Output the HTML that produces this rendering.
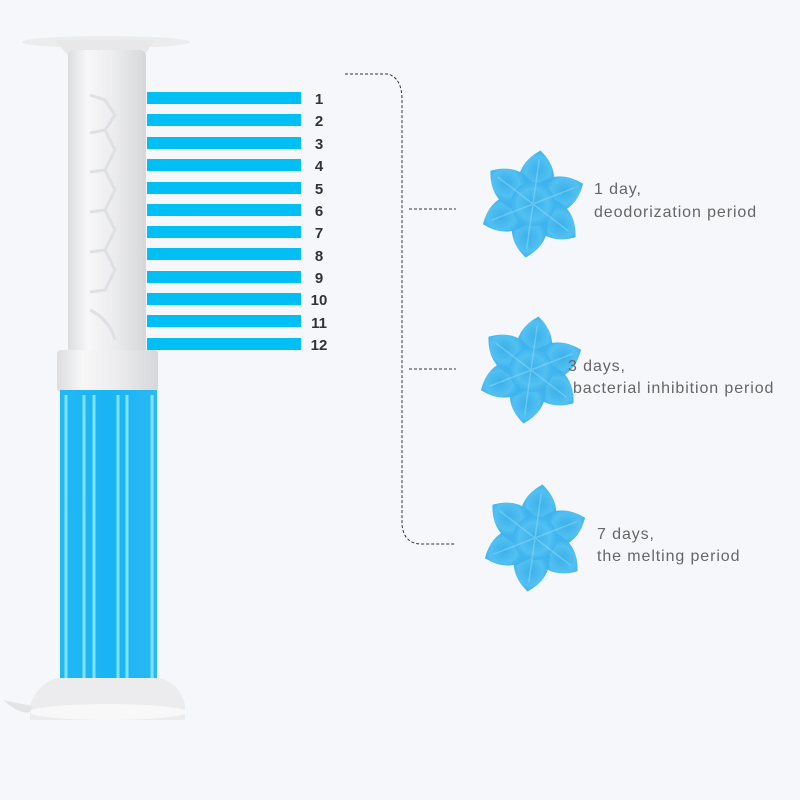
<!DOCTYPE html>
<html><head><style>
html,body{margin:0;padding:0;background:#f5f7fa;}
svg{display:block}
text{font-family:"Liberation Sans","DejaVu Sans",sans-serif}
</style></head><body>
<svg width="800" height="800" viewBox="0 0 800 800" xmlns="http://www.w3.org/2000/svg">
<defs>
<linearGradient id="wt" x1="0" x2="1">
<stop offset="0" stop-color="#dcdde0"/><stop offset="0.25" stop-color="#f7f7f8"/><stop offset="0.6" stop-color="#ececee"/><stop offset="1" stop-color="#d6d7da"/>
</linearGradient>
<linearGradient id="bl" x1="0" x2="1">
<stop offset="0" stop-color="#22b8f5"/><stop offset="0.5" stop-color="#18b4f4"/><stop offset="1" stop-color="#2ab9f4"/>
</linearGradient>
<radialGradient id="fl">
<stop offset="0" stop-color="#3ab0ea"/><stop offset="0.7" stop-color="#52c0f2"/><stop offset="1" stop-color="#3eb3ee"/>
</radialGradient>
<g id="flower">
<g fill="url(#fl)">
<path id="pt" d="M-17 -14 Q-22 -38 0 -54 Q22 -38 17 -14 Z"/>
<use href="#pt" transform="rotate(60)"/>
<use href="#pt" transform="rotate(120)"/>
<use href="#pt" transform="rotate(180)"/>
<use href="#pt" transform="rotate(240)"/>
<use href="#pt" transform="rotate(300)"/>
<circle r="22"/>
</g>
<g stroke="#8fdaf8" stroke-width="1.5" opacity="0.5">
<line x1="0" y1="0" x2="0" y2="-45"/><line x1="0" y1="0" x2="0" y2="45" />
<line x1="0" y1="0" x2="39" y2="-22"/><line x1="0" y1="0" x2="-39" y2="22"/>
<line x1="0" y1="0" x2="39" y2="22"/><line x1="0" y1="0" x2="-39" y2="-22"/>
</g>
</g>
</defs>

<ellipse cx="106" cy="42" rx="84" ry="6" fill="#ececee"/>
<path d="M55 40 L155 40 L142 58 L70 58 Z" fill="#e8e8ea"/>
<rect x="68" y="50" width="78" height="305" rx="6" fill="url(#wt)"/>
<g stroke="#dfe0e3" stroke-width="3" fill="none">
<path d="M90 95 L105 100 L115 115 L105 130 L90 133"/>
<path d="M105 130 L115 150 L105 170 L90 172"/>
<path d="M105 170 L115 190 L105 210 L90 212"/>
<path d="M105 210 L115 230 L105 250 L90 252"/>
<path d="M105 250 L115 270 L105 290 L90 292"/>
<path d="M90 310 Q110 320 115 340"/>
</g>
<rect x="57" y="350" width="101" height="42" rx="4" fill="url(#wt)"/>
<rect x="60" y="390" width="97" height="292" fill="url(#bl)"/>
<g stroke="#7fe3ff" stroke-width="3">
<line x1="66" y1="395" x2="66" y2="680"/>
<line x1="84" y1="395" x2="84" y2="680"/>
<line x1="94" y1="395" x2="94" y2="680"/>
<line x1="118" y1="395" x2="118" y2="680"/>
<line x1="127" y1="395" x2="127" y2="680"/>
<line x1="152" y1="395" x2="152" y2="680"/>
</g>
<path d="M30 705 Q40 680 60 678 L157 678 Q180 682 185 705 L185 720 L30 720 Z" fill="#ececee"/>
<ellipse cx="108" cy="712" rx="78" ry="8" fill="#f8f8f9"/>
<path d="M3 700 Q20 715 30 712 L32 706 Z" fill="#e4e4e6"/>

<g fill="#00bff5">
<rect x="147" y="92" width="154" height="12"/>
<rect x="147" y="114" width="154" height="12"/>
<rect x="147" y="137" width="154" height="12"/>
<rect x="147" y="159" width="154" height="12"/>
<rect x="147" y="182" width="154" height="12"/>
<rect x="147" y="204" width="154" height="12"/>
<rect x="147" y="226" width="154" height="12"/>
<rect x="147" y="248" width="154" height="12"/>
<rect x="147" y="271" width="154" height="12"/>
<rect x="147" y="293" width="154" height="12"/>
<rect x="147" y="315" width="154" height="12"/>
<rect x="147" y="338" width="154" height="12"/>
</g>
<g font-size="15" font-weight="bold" fill="#333" text-anchor="middle" font-family="Liberation Sans, sans-serif">
<text x="319" y="104">1</text><text x="319" y="126">2</text><text x="319" y="149">3</text>
<text x="319" y="171">4</text><text x="319" y="194">5</text><text x="319" y="216">6</text>
<text x="319" y="238">7</text><text x="319" y="261">8</text><text x="319" y="283">9</text>
<text x="319" y="305">10</text><text x="319" y="328">11</text><text x="319" y="350">12</text>
</g>

<g stroke="#333" stroke-width="1" stroke-dasharray="3,2" fill="none">
<path d="M345 74 L388 74 Q402 78 402 100 L402 525 Q404 543 420 544 L455 544"/>
<line x1="409" y1="209" x2="456" y2="209"/>
<line x1="409" y1="369" x2="456" y2="369"/>
</g>

<use href="#flower" transform="translate(533,204) rotate(8)"/>
<use href="#flower" transform="translate(531,370) rotate(8)"/>
<use href="#flower" transform="translate(535,538) rotate(8)"/>

<g font-size="16" fill="#666" letter-spacing="0.9">
<text x="594" y="194">1 day,</text>
<text x="594" y="217">deodorization period</text>
<text x="568" y="371">3 days,</text>
<text x="573" y="393">bacterial inhibition period</text>
<text x="597" y="539">7 days,</text>
<text x="597" y="561">the melting period</text>
</g>
</svg>
</body></html>
